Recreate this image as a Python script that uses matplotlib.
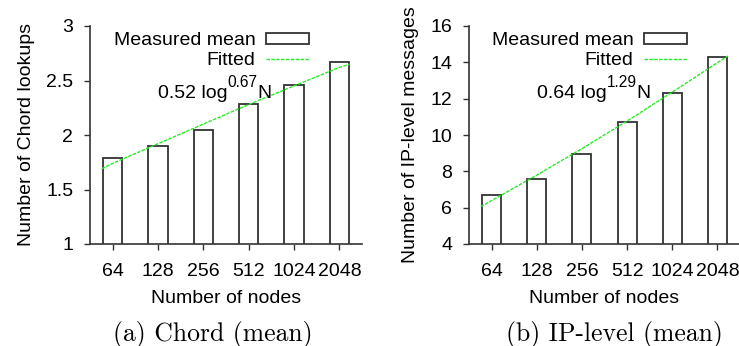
import matplotlib
matplotlib.use("Agg")
import matplotlib.pyplot as plt
from matplotlib.patches import Patch
from matplotlib.lines import Line2D
import numpy as np

plt.rcParams["font.family"] = ["Liberation Sans", "DejaVu Sans"]

nodes = ["64", "128", "256", "512", "1024", "2048"]

chord_mean = [1.79, 1.90, 2.05, 2.28, 2.46, 2.67]
ip_mean = [6.67, 7.57, 8.94, 10.72, 12.33, 14.31]

# fitted curves (x in bar-index units)
fit_x = [-0.24, 0, 1, 2, 3, 4, 5, 5.23]
chord_fit = [1.69, 1.74, 1.92, 2.10, 2.28, 2.45, 2.62, 2.65]
ip_fit = [6.06, 6.39, 7.79, 9.25, 10.77, 12.36, 13.98, 14.35]

panels = [
    dict(mean=chord_mean, fit=chord_fit, ylim=(1, 3), yticks=[1, 1.5, 2, 2.5, 3],
         yticklabels=["1", "1.5", "2", "2.5", "3"], ylabel="Number of Chord lookups",
         coef="0.52", power="0.67", caption="(a) Chord (mean)", cap_dx=-13),
    dict(mean=ip_mean, fit=ip_fit, ylim=(4, 16), yticks=[4, 6, 8, 10, 12, 14, 16],
         yticklabels=["4", "6", "8", "10", "12", "14", "16"],
         ylabel="Number of IP-level messages",
         coef="0.64", power="1.29", caption="(b) IP-level (mean)", cap_dx=10),
]

FS = 14
GREEN = "#22ee22"
EDGE = "#333333"

fig = plt.figure(figsize=(7.39, 3.46), dpi=100)
rects = [(90 / 739, 102 / 346, 272 / 739, 218 / 346),
         (469 / 739, 102 / 346, 271 / 739, 218 / 346)]

for rect, p in zip(rects, panels):
    ax = fig.add_axes(rect)
    x = np.arange(len(nodes))
    ax.bar(x, p["mean"], width=0.42, bottom=0, color="white", edgecolor=EDGE,
           linewidth=1.3, zorder=2)
    ax.plot(fit_x, p["fit"], color=GREEN, linestyle=(0, (2.5, 1)), linewidth=1.0, zorder=3)

    ax.set_xlim(-0.5, 5.5)
    ax.set_ylim(*p["ylim"])
    ax.set_xticks(x)
    ax.set_xticklabels(nodes, fontsize=FS)
    ax.set_yticks(p["yticks"])
    ax.set_yticklabels(p["yticklabels"], fontsize=FS)
    ax.tick_params(axis="x", direction="out", length=4, width=1, color=EDGE, pad=10)
    ax.tick_params(axis="y", direction="out", length=4, width=1, color=EDGE, pad=8)
    for s in ["top", "right"]:
        ax.spines[s].set_visible(False)
    for s in ["left", "bottom"]:
        ax.spines[s].set_color(EDGE)
        ax.spines[s].set_linewidth(1.2)
    ax.set_ylabel(p["ylabel"], fontsize=FS, labelpad=8)
    ax.set_xlabel("Number of nodes", fontsize=FS, labelpad=7)

    handles = [Patch(facecolor="white", edgecolor=EDGE, linewidth=1.3),
               Line2D([], [], color=GREEN, linestyle=(0, (2.5, 1)), linewidth=1.0)]
    ax.legend(handles, ["Measured mean", "Fitted"], loc="upper right",
              bbox_to_anchor=(0.805, 0.972), frameon=False, markerfirst=False,
              fontsize=FS, handlelength=2.2, handleheight=0.5, handletextpad=0.55,
              labelspacing=0.17, borderpad=0, borderaxespad=0)

    # formula label: base text, raised exponent, then N
    t1 = ax.text(0.25, 0.672, p["coef"] + " log", transform=ax.transAxes,
                 ha="left", va="baseline", fontsize=FS)
    t2 = ax.annotate(p["power"], xy=(1, 0), xycoords=t1, xytext=(0, 8),
                     textcoords="offset points", ha="left", va="bottom",
                     fontsize=FS * 0.8)
    ax.annotate("N", xy=(1, 0), xycoords=t2, xytext=(0, -8),
                textcoords="offset points", ha="left", va="bottom", fontsize=FS)

    cx = (rect[0] + rect[2] / 2) * 739 + p["cap_dx"]
    fig.text(cx / 739, 1 - 334 / 346, p["caption"], ha="center", va="center",
             fontsize=18.5, family="cmr10")

fig.savefig("out.png", dpi=100)
